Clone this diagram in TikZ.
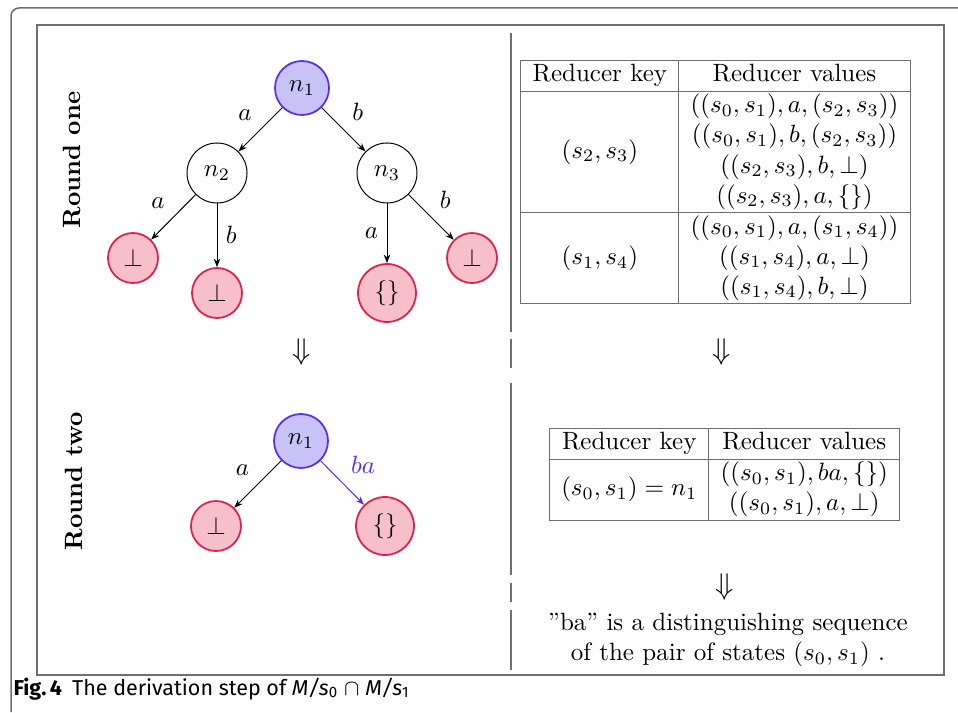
\documentclass[tikz,border=0pt]{standalone}
\usepackage{amsmath,amssymb}
\usepackage[table]{xcolor}
\usepackage{fontspec}
\usepackage{tikz}
\usetikzlibrary{arrows.meta,positioning}
\newfontfamily\capfont{Fira Sans}
\definecolor{rootline}{HTML}{5B2EE6}
\definecolor{rootfill}{HTML}{C9C2F7}
\definecolor{leafline}{HTML}{E0204C}
\definecolor{leaffill}{HTML}{F7BFC9}
\definecolor{framegray}{HTML}{6E6E6E}
\arrayrulecolor{framegray}
\setlength{\tabcolsep}{4.5pt}
\newcommand{\thendown}{{\fontsize{13}{15}\selectfont$\Downarrow$}}

\begin{document}
\begin{tikzpicture}[x=0.4pt,y=-0.4pt,
  state/.style={draw,circle,inner sep=0pt,minimum size=24pt,line width=0.4pt},
  root/.style={state,draw=rootline,fill=rootfill,line width=0.7pt,minimum size=21.6pt},
  leaf/.style={state,draw=leafline,fill=leaffill,line width=0.7pt,minimum size=20pt},
  emptyleaf/.style={leaf,minimum size=23.2pt},
  trans/.style={->,line width=0.4pt},
  rule/.style={framegray,line width=0.6pt},
  >={Stealth[length=3.4pt,width=2.6pt]}]
\useasboundingbox (0,0) rectangle (958,712);
\draw[rule,rounded corners=3.2pt] (11,712) -- (11,8) -- (958,8);
\draw[rule] (37,25) rectangle (944,675);
\foreach \ya/\yb in {33/332,339/368,383/575,583/602,610/670}
  \draw[framegray,line width=0.5pt] (511,\ya) -- (511,\yb);
\node[rotate=90,font=\bfseries] (one) at (72,160) {Round one};
\node[rotate=90,font=\bfseries] (two) at (74,481) {Round two};
\node[root] (r1) at (302,88) {$n_1$};
\node[state] (n2) at (217,173) {$n_2$};
\node[state] (n3) at (387,173) {$n_3$};
\node[leaf] (aa) at (133,258) {$\bot$};
\node[leaf] (ab) at (217,293) {$\bot$};
\node[emptyleaf] (ba) at (387,293) {$\{\}$};
\node[leaf] (bb) at (472,258) {$\bot$};
\draw[trans] (r1) -- node[above left] {$a$} (n2);
\draw[trans] (r1) -- node[above right] {$b$} (n3);
\draw[trans] (n2) -- node[above left] {$a$} (aa);
\draw[trans] (n2) -- node[right] {$b$} (ab);
\draw[trans] (n3) -- node[left] {$a$} (ba);
\draw[trans] (n3) -- node[above right] {$b$} (bb);
\node[inner sep=0pt] (d1) at (302,352) {\thendown};
\node[root] (r2) at (301,441) {$n_1$};
\node[leaf] (ra) at (216,526) {$\bot$};
\node[emptyleaf] (rb) at (385,526) {$\{\}$};
\draw[trans] (r2) -- node[above left] {$a$} (ra);
\draw[trans,rootline] (r2) -- node[above right,text=rootline] {$ba$} (rb);
\node[inner sep=0pt] (tab1) at (715.5,182) {\begin{tabular}{|c|c|}
  \hline
  Reducer key & Reducer values\\
  \hline
  $(s_2,s_3)$ & \begin{tabular}{@{}c@{}}$((s_0,s_1),a,(s_2,s_3))$\\$((s_0,s_1),b,(s_2,s_3))$\\$((s_2,s_3),b,\bot)$\\$((s_2,s_3),a,\{\})$\end{tabular}\\
  \hline
  $(s_1,s_4)$ & \begin{tabular}{@{}c@{}}$((s_0,s_1),a,(s_1,s_4))$\\$((s_1,s_4),a,\bot)$\\$((s_1,s_4),b,\bot)$\end{tabular}\\
  \hline
\end{tabular}};
\node[inner sep=0pt] (d2) at (722,352) {\thendown};
\node[inner sep=0pt] (tab2) at (724.5,474) {\begin{tabular}{|c|c|}
  \hline
  Reducer key & Reducer values\\
  \hline
  $(s_0,s_1)=n_1$ & \begin{tabular}{@{}c@{}}$((s_0,s_1),ba,\{\})$\\$((s_0,s_1),a,\bot)$\end{tabular}\\
  \hline
\end{tabular}};
\node[inner sep=0pt] (d3) at (725,587) {\thendown};
\node[align=center] (seq) at (728,640) {''ba'' is a distinguishing sequence\\of the pair of states $(s_0,s_1)$ .};
\node[anchor=base west,inner sep=0pt,font=\capfont\fontsize{8.6}{10}\selectfont] (cap) at (13,695)
  {\textbf{Fig.\,4}\hspace{4pt}The derivation step of \textit{M/s}\textsubscript{0} $\cap$ \textit{M/s}\textsubscript{1}};
\end{tikzpicture}
\end{document}
